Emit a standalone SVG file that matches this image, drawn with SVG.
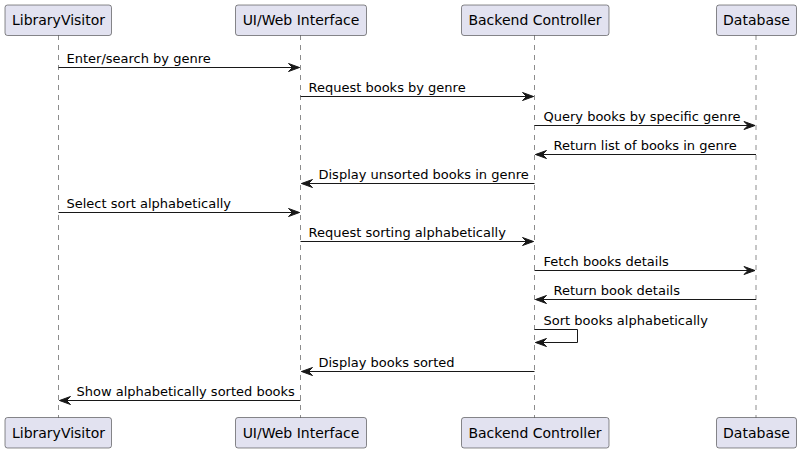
<svg xmlns="http://www.w3.org/2000/svg" width="802" height="453" viewBox="0 0 802 453">
<style>
.box{fill:#E2E2F0;stroke:#181818;stroke-width:0.5;}
.pt{font-family:"DejaVu Sans",sans-serif;font-size:14px;fill:#000;text-anchor:middle;}
.life{stroke:#181818;stroke-width:0.5;stroke-dasharray:5,5;fill:none;}
.msg{stroke:#181818;stroke-width:1;fill:none;}
.head{fill:#181818;stroke:#181818;stroke-width:1;}
.mt{font-family:"DejaVu Sans",sans-serif;font-size:13px;fill:#000;}
</style>
<rect width="802" height="453" fill="#fff"/>
<g id="lifelines">
<line class="life" x1="58.5" y1="35" x2="58.5" y2="418"/>
<line class="life" x1="300.5" y1="35" x2="300.5" y2="418"/>
<line class="life" x1="534.5" y1="35" x2="534.5" y2="418"/>
<line class="life" x1="756" y1="35" x2="756" y2="418"/>
</g>
<g id="LibraryVisitor">
<rect class="box" x="5" y="5" width="106.5" height="30.5" rx="2.5"/>
<text class="pt" x="58.5" y="25">LibraryVisitor</text>
<rect class="box" x="5" y="417.5" width="106.5" height="30.5" rx="2.5"/>
<text class="pt" x="58.5" y="437.5">LibraryVisitor</text>
</g>
<g id="UIWeb">
<rect class="box" x="235.5" y="5" width="131" height="30.5" rx="2.5"/>
<text class="pt" x="301" y="25">UI/Web Interface</text>
<rect class="box" x="235.5" y="417.5" width="131" height="30.5" rx="2.5"/>
<text class="pt" x="301" y="437.5">UI/Web Interface</text>
</g>
<g id="Backend">
<rect class="box" x="461.5" y="5" width="147.5" height="30.5" rx="2.5"/>
<text class="pt" x="535" y="25">Backend Controller</text>
<rect class="box" x="461.5" y="417.5" width="147.5" height="30.5" rx="2.5"/>
<text class="pt" x="535" y="437.5">Backend Controller</text>
</g>
<g id="Database">
<rect class="box" x="716.5" y="5" width="80" height="30.5" rx="2.5"/>
<text class="pt" x="756.5" y="25">Database</text>
<rect class="box" x="716.5" y="417.5" width="80" height="30.5" rx="2.5"/>
<text class="pt" x="756.5" y="437.5">Database</text>
</g>
<g id="connectors">
<!-- 1 -->
<line class="msg" x1="58.5" y1="67.5" x2="299.5" y2="67.5"/>
<polygon class="head" points="288.5,63.5 299.5,67.5 288.5,71.5 292.5,67.5"/>
<text class="mt" x="66.5" y="62.5">Enter/search by genre</text>
<!-- 2 -->
<line class="msg" x1="300.5" y1="96.5" x2="533.5" y2="96.5"/>
<polygon class="head" points="522.5,92.5 533.5,96.5 522.5,100.5 526.5,96.5"/>
<text class="mt" x="308.5" y="91.5">Request books by genre</text>
<!-- 3 -->
<line class="msg" x1="534.5" y1="125.5" x2="755" y2="125.5"/>
<polygon class="head" points="744,121.5 755,125.5 744,129.5 748,125.5"/>
<text class="mt" x="543.5" y="120.5">Query books by specific genre</text>
<!-- 4 -->
<line class="msg" x1="535.5" y1="154.5" x2="756" y2="154.5"/>
<polygon class="head" points="546.5,150.5 535.5,154.5 546.5,158.5 542.5,154.5"/>
<text class="mt" x="553.5" y="149.5">Return list of books in genre</text>
<!-- 5 -->
<line class="msg" x1="301.5" y1="183.5" x2="534.5" y2="183.5"/>
<polygon class="head" points="312.5,179.5 301.5,183.5 312.5,187.5 308.5,183.5"/>
<text class="mt" x="318.5" y="178.5">Display unsorted books in genre</text>
<!-- 6 -->
<line class="msg" x1="58.5" y1="212.5" x2="299.5" y2="212.5"/>
<polygon class="head" points="288.5,208.5 299.5,212.5 288.5,216.5 292.5,212.5"/>
<text class="mt" x="66.5" y="207.5">Select sort alphabetically</text>
<!-- 7 -->
<line class="msg" x1="300.5" y1="241.5" x2="533.5" y2="241.5"/>
<polygon class="head" points="522.5,237.5 533.5,241.5 522.5,245.5 526.5,241.5"/>
<text class="mt" x="308.5" y="236.5">Request sorting alphabetically</text>
<!-- 8 -->
<line class="msg" x1="534.5" y1="270.5" x2="755" y2="270.5"/>
<polygon class="head" points="744,266.5 755,270.5 744,274.5 748,270.5"/>
<text class="mt" x="543.5" y="265.5">Fetch books details</text>
<!-- 9 -->
<line class="msg" x1="535.5" y1="299.5" x2="756" y2="299.5"/>
<polygon class="head" points="546.5,295.5 535.5,299.5 546.5,303.5 542.5,299.5"/>
<text class="mt" x="553.5" y="294.5">Return book details</text>
<!-- 10 self -->
<polyline class="msg" points="534.5,329.5 577.5,329.5 577.5,342.5 535.5,342.5"/>
<polygon class="head" points="546.5,338.5 535.5,342.5 546.5,346.5 542.5,342.5"/>
<text class="mt" x="543.5" y="324.5">Sort books alphabetically</text>
<!-- 11 -->
<line class="msg" x1="301.5" y1="371.5" x2="534.5" y2="371.5"/>
<polygon class="head" points="312.5,367.5 301.5,371.5 312.5,375.5 308.5,371.5"/>
<text class="mt" x="318.5" y="366.5">Display books sorted</text>
<!-- 12 -->
<line class="msg" x1="59.5" y1="400.5" x2="300.5" y2="400.5"/>
<polygon class="head" points="70.5,396.5 59.5,400.5 70.5,404.5 66.5,400.5"/>
<text class="mt" x="76.5" y="395.5">Show alphabetically sorted books</text>
</g>
</svg>
